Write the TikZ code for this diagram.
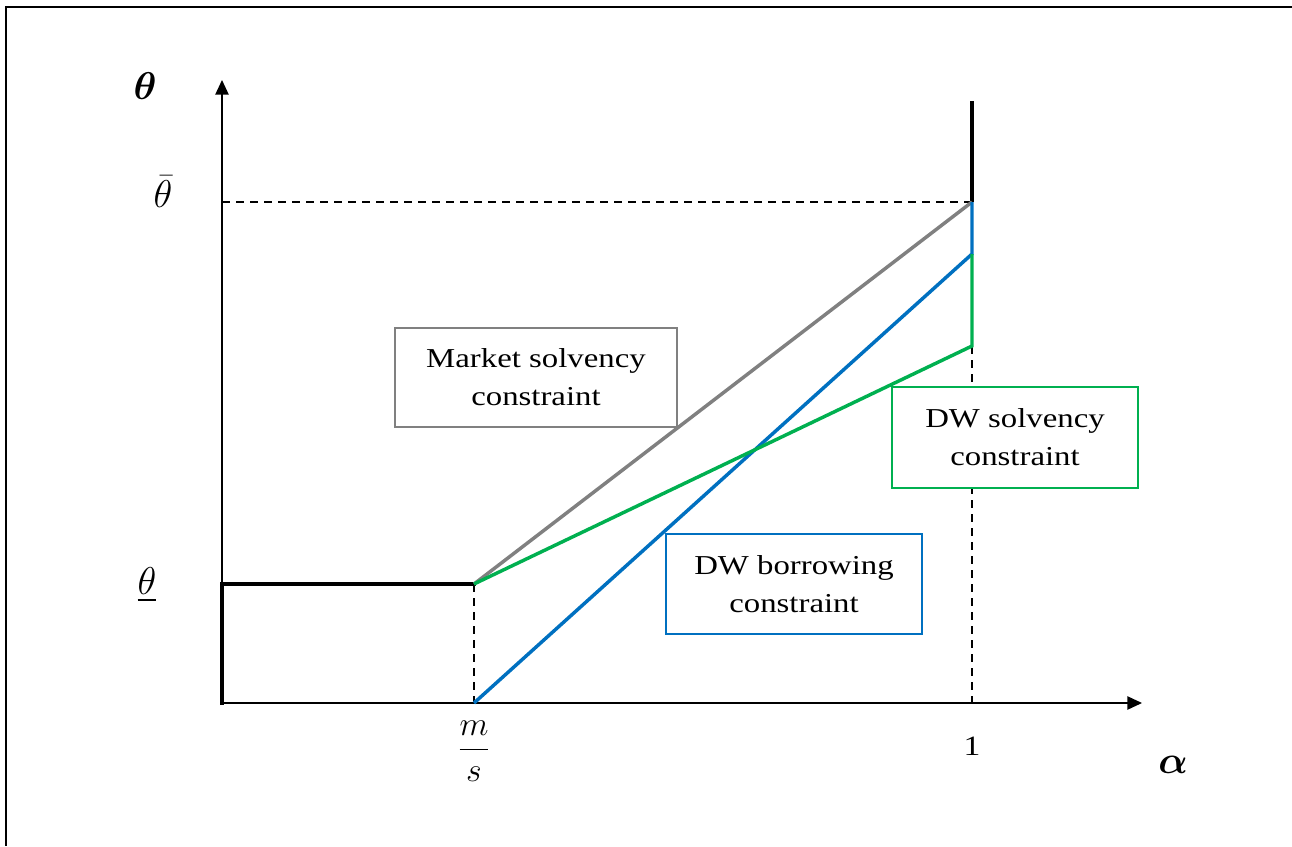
\RequirePackage{fix-cm}
\documentclass[tikz,border=0pt]{standalone}
\usepackage{amsmath,bm,graphicx}
\usepackage{fontspec}
\setmainfont{Liberation Serif}[FakeStretch=1.2]
\usetikzlibrary{arrows.meta}
\definecolor{cgray}{RGB}{128,128,128}
\definecolor{cblue}{RGB}{0,112,192}
\definecolor{cgreen}{RGB}{0,176,80}
\newcommand{\mathscaled}[1]{\scalebox{1.32}{#1}}
\tikzset{
  axis/.style={line width=1.1pt,-{Triangle[length=11pt,width=10pt]}},
  thick black/.style={line width=3pt},
  guide/.style={line width=1pt,dash pattern=on 6pt off 4.5pt},
  curve/.style={line width=2.6pt},
  labelbox/.style={draw,fill=white,line width=2.2pt,align=center,inner sep=0pt,
    font=\fontsize{20.5}{28.5}\selectfont},
  mathlbl/.style={font=\fontsize{22}{26}\selectfont,inner sep=0pt}
}
\begin{document}
\begin{tikzpicture}[x=0.75pt,y=-0.75pt]
\useasboundingbox (0,0) rectangle (1292,846);
% frame (top and left only)
\draw[line width=1.6pt] (1292,7) -- (6,7) -- (6,846);
% coordinates
\coordinate (O) at (222,703);
\coordinate (Ytip) at (222,80);
\coordinate (Xtip) at (1142,703);
\coordinate (A) at (222,584);
\coordinate (B) at (474,584);
\coordinate (Bx) at (474,703);
\coordinate (Tbar0) at (222,202);
\coordinate (P) at (972,202);
\coordinate (Ptop) at (972,101);
\coordinate (Q) at (972,254);
\coordinate (R) at (972,346);
\coordinate (Rx) at (972,703);
% axes
\draw[axis] (O) -- (Ytip);
\draw[axis] (O) -- (Xtip);
% guides
\draw[guide] (Tbar0) -- (P);
\draw[guide] (B) -- (Bx);
\draw[guide] (R) -- (Rx);
% black thick lines
\draw[thick black,line cap=rect] (O) -- (A) -- (B);
\draw[thick black] (P) -- (Ptop);
% constraint lines
\draw[curve,cgray] (B) -- (P);
\draw[curve,cblue] (Bx) -- (Q) -- (P);
\draw[curve,cgreen] (B) -- (R) -- (Q);
% boxes
\node[labelbox,draw=cgray,minimum width=211.5pt,minimum height=74.25pt] (market) at (536,377.5) {Market solvency\\constraint};
\node[labelbox,draw=cblue,minimum width=192pt,minimum height=75pt] (dwb) at (794,584) {DW borrowing\\constraint};
\node[labelbox,draw=cgreen,minimum width=184.5pt,minimum height=75.75pt] (dws) at (1015,437.5) {DW solvency\\constraint};
% labels
\node[mathlbl] (theta) at (145,86) {\mathscaled{$\bm{\theta}$}};
\node[mathlbl] (thetabar) at (163,192) {\mathscaled{$\bar{\theta}$}};
\node[mathlbl] (thetaund) at (147,585) {\mathscaled{$\underline{\theta}$}};
\node[mathlbl] (ms) at (474,751) {\scalebox{1.15}{$\dfrac{m}{s}$}};
\node[inner sep=0pt,align=center,font=\fontsize{21}{24}\selectfont] (one) at (972,746) {1};
\node[mathlbl] (alpha) at (1173,765) {\mathscaled{$\bm{\alpha}$}};
\end{tikzpicture}
\end{document}
